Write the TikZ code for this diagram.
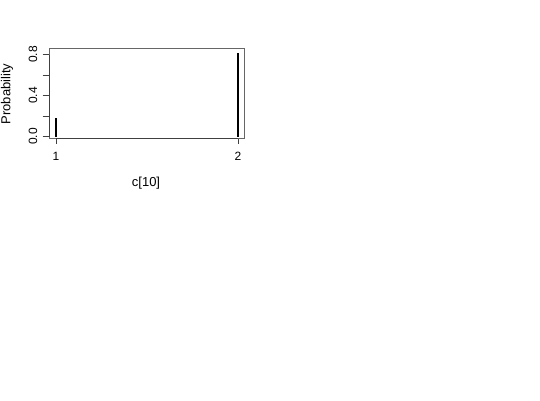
\documentclass[tikz,border=0pt]{standalone}
\usepackage{fontspec}
\setmainfont{Liberation Sans}
\tikzstyle{ticklabel}=[inner sep=0pt,font=\fontsize{12}{12}\selectfont]
\tikzstyle{axistitle}=[inner sep=0pt,font=\fontsize{13}{13}\selectfont]
\tikzstyle{frame}=[draw=black!60,line width=0.9pt]
\tikzstyle{axisline}=[draw=black!75,line width=0.7pt]
\tikzstyle{bar}=[draw=black,line width=2pt]

\begin{document}
\begin{tikzpicture}[x=1pt,y=-1pt]
      \useasboundingbox (0,0) rectangle (540,400);
      \draw [frame] (49,48.5) rectangle (244.5,138.5);
      \draw [axisline] (49,136.5) -- (49,54.5);
      \draw [axisline] (56,138.5) -- (238,138.5);
      \foreach \v in {0,0.2,0.4,0.6,0.8}
        \draw [axisline] (42.5,136.5-\v*102.5) -- (49,136.5-\v*102.5);
      \node [ticklabel,rotate=90] (y0) at (33,136.5) {0.0};
      \node [ticklabel,rotate=90] (y4) at (33,95.5) {0.4};
      \node [ticklabel,rotate=90] (y8) at (33,54.5) {0.8};
      \draw [axisline] (56,138.5) -- (56,143.5);
      \draw [axisline] (238,138.5) -- (238,143.5);
      \node [ticklabel] (x1) at (56,156.5) {1};
      \node [ticklabel] (x2) at (238,156.5) {2};
      \node [axistitle,rotate=90] (ytitle) at (7,94) {Probability};
      \node [axistitle] (xtitle) at (146,183) {c[10]};
      \draw [bar] (56,136.5) -- (56,118);
      \draw [bar] (238,136.5) -- (238,52.5);
    \end{tikzpicture}
\end{document}
